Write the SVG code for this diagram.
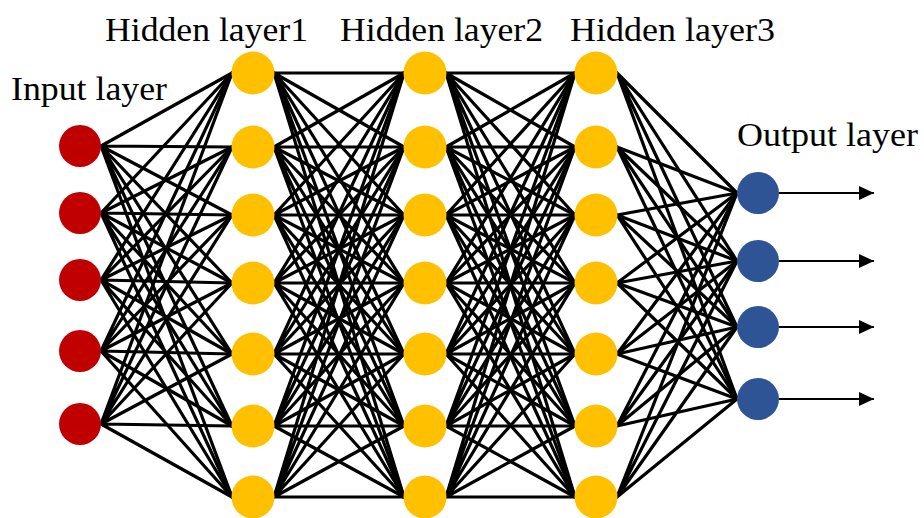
<svg xmlns="http://www.w3.org/2000/svg" width="924" height="518" viewBox="0 0 924 518">
<style>
.lbl{font-family:"Liberation Serif","Times New Roman",serif;font-size:33px;fill:#000}
.c{fill:none;stroke:#000;stroke-width:3.2;stroke-linecap:round}
.in{fill:#C00000}
.hid{fill:#FFC000}
.out{fill:#2F5496}
.arr{stroke:#000;stroke-width:2.2}
</style>
<defs>
<marker id="ah" markerWidth="16" markerHeight="14" refX="15" refY="7" orient="auto" markerUnits="userSpaceOnUse">
<path d="M0,0 L15,7 L0,14 Z" fill="#000"/>
</marker>
</defs>
<rect width="924" height="518" fill="#fff"/>
<g id="connectors">
<path class="c" d="M101 146L232 73M101 146L232 147M101 146L232 215M101 146L232 283M101 146L232 354M101 146L232 426M101 146L232 497"/>
<path class="c" d="M101 213L232 73M101 213L232 147M101 213L232 215M101 213L232 283M101 213L232 354M101 213L232 426M101 213L232 497"/>
<path class="c" d="M101 280L232 73M101 280L232 147M101 280L232 215M101 280L232 283M101 280L232 354M101 280L232 426M101 280L232 497"/>
<path class="c" d="M101 351L232 73M101 351L232 147M101 351L232 215M101 351L232 283M101 351L232 354M101 351L232 426M101 351L232 497"/>
<path class="c" d="M101 424L232 73M101 424L232 147M101 424L232 215M101 424L232 283M101 424L232 354M101 424L232 426M101 424L232 497"/>
<path class="c" d="M274 73L404 73M274 73L404 147M274 73L404 215M274 73L404 283M274 73L404 354M274 73L404 426M274 73L404 497"/>
<path class="c" d="M274 147L404 73M274 147L404 147M274 147L404 215M274 147L404 283M274 147L404 354M274 147L404 426M274 147L404 497"/>
<path class="c" d="M274 215L404 73M274 215L404 147M274 215L404 215M274 215L404 283M274 215L404 354M274 215L404 426M274 215L404 497"/>
<path class="c" d="M274 283L404 73M274 283L404 147M274 283L404 215M274 283L404 283M274 283L404 354M274 283L404 426M274 283L404 497"/>
<path class="c" d="M274 354L404 73M274 354L404 147M274 354L404 215M274 354L404 283M274 354L404 354M274 354L404 426M274 354L404 497"/>
<path class="c" d="M274 426L404 73M274 426L404 147M274 426L404 215M274 426L404 283M274 426L404 354M274 426L404 426M274 426L404 497"/>
<path class="c" d="M274 497L404 73M274 497L404 147M274 497L404 215M274 497L404 283M274 497L404 354M274 497L404 426M274 497L404 497"/>
<path class="c" d="M446 73L575 73M446 73L575 147M446 73L575 215M446 73L575 283M446 73L575 354M446 73L575 426M446 73L575 497"/>
<path class="c" d="M446 147L575 73M446 147L575 147M446 147L575 215M446 147L575 283M446 147L575 354M446 147L575 426M446 147L575 497"/>
<path class="c" d="M446 215L575 73M446 215L575 147M446 215L575 215M446 215L575 283M446 215L575 354M446 215L575 426M446 215L575 497"/>
<path class="c" d="M446 283L575 73M446 283L575 147M446 283L575 215M446 283L575 283M446 283L575 354M446 283L575 426M446 283L575 497"/>
<path class="c" d="M446 354L575 73M446 354L575 147M446 354L575 215M446 354L575 283M446 354L575 354M446 354L575 426M446 354L575 497"/>
<path class="c" d="M446 426L575 73M446 426L575 147M446 426L575 215M446 426L575 283M446 426L575 354M446 426L575 426M446 426L575 497"/>
<path class="c" d="M446 497L575 73M446 497L575 147M446 497L575 215M446 497L575 283M446 497L575 354M446 497L575 426M446 497L575 497"/>
<path class="c" d="M617 73L737 193M617 73L737 261M617 73L737 327M617 73L737 399"/>
<path class="c" d="M617 147L737 193M617 147L737 261M617 147L737 327M617 147L737 399"/>
<path class="c" d="M617 215L737 193M617 215L737 261M617 215L737 327M617 215L737 399"/>
<path class="c" d="M617 283L737 193M617 283L737 261M617 283L737 327M617 283L737 399"/>
<path class="c" d="M617 354L737 193M617 354L737 261M617 354L737 327M617 354L737 399"/>
<path class="c" d="M617 426L737 193M617 426L737 261M617 426L737 327M617 426L737 399"/>
<path class="c" d="M617 497L737 193M617 497L737 261M617 497L737 327M617 497L737 399"/>
<line class="arr" x1="779" y1="193" x2="874" y2="193" marker-end="url(#ah)"/>
<line class="arr" x1="779" y1="261" x2="874" y2="261" marker-end="url(#ah)"/>
<line class="arr" x1="779" y1="327" x2="874" y2="327" marker-end="url(#ah)"/>
<line class="arr" x1="779" y1="399" x2="874" y2="399" marker-end="url(#ah)"/>
</g>
<g id="input-layer">
<circle id="i1" class="in" cx="80" cy="146" r="21"/>
<circle id="i2" class="in" cx="80" cy="213" r="21"/>
<circle id="i3" class="in" cx="80" cy="280" r="21"/>
<circle id="i4" class="in" cx="80" cy="351" r="21"/>
<circle id="i5" class="in" cx="80" cy="424" r="21"/>
</g>
<g id="hidden-layer1">
<circle class="hid" cx="253" cy="73" r="21.5"/>
<circle class="hid" cx="253" cy="147" r="21.5"/>
<circle class="hid" cx="253" cy="215" r="21.5"/>
<circle class="hid" cx="253" cy="283" r="21.5"/>
<circle class="hid" cx="253" cy="354" r="21.5"/>
<circle class="hid" cx="253" cy="426" r="21.5"/>
<circle class="hid" cx="253" cy="497" r="21.5"/>
</g>
<g id="hidden-layer2">
<circle class="hid" cx="425" cy="73" r="21.5"/>
<circle class="hid" cx="425" cy="147" r="21.5"/>
<circle class="hid" cx="425" cy="215" r="21.5"/>
<circle class="hid" cx="425" cy="283" r="21.5"/>
<circle class="hid" cx="425" cy="354" r="21.5"/>
<circle class="hid" cx="425" cy="426" r="21.5"/>
<circle class="hid" cx="425" cy="497" r="21.5"/>
</g>
<g id="hidden-layer3">
<circle class="hid" cx="596" cy="73" r="21.5"/>
<circle class="hid" cx="596" cy="147" r="21.5"/>
<circle class="hid" cx="596" cy="215" r="21.5"/>
<circle class="hid" cx="596" cy="283" r="21.5"/>
<circle class="hid" cx="596" cy="354" r="21.5"/>
<circle class="hid" cx="596" cy="426" r="21.5"/>
<circle class="hid" cx="596" cy="497" r="21.5"/>
</g>
<g id="output-layer">
<circle class="out" cx="758" cy="193" r="21"/>
<circle class="out" cx="758" cy="261" r="21"/>
<circle class="out" cx="758" cy="327" r="21"/>
<circle class="out" cx="758" cy="399" r="21"/>
</g>
<g id="labels">
<text class="lbl" x="105" y="41" textLength="203" lengthAdjust="spacingAndGlyphs">Hidden layer1</text>
<text class="lbl" x="340" y="41" textLength="203" lengthAdjust="spacingAndGlyphs">Hidden layer2</text>
<text class="lbl" x="570" y="41" textLength="205" lengthAdjust="spacingAndGlyphs">Hidden layer3</text>
<text class="lbl" x="11" y="100" textLength="156" lengthAdjust="spacingAndGlyphs">Input layer</text>
<text class="lbl" x="737" y="146" textLength="181" lengthAdjust="spacingAndGlyphs">Output layer</text>
</g>
</svg>
